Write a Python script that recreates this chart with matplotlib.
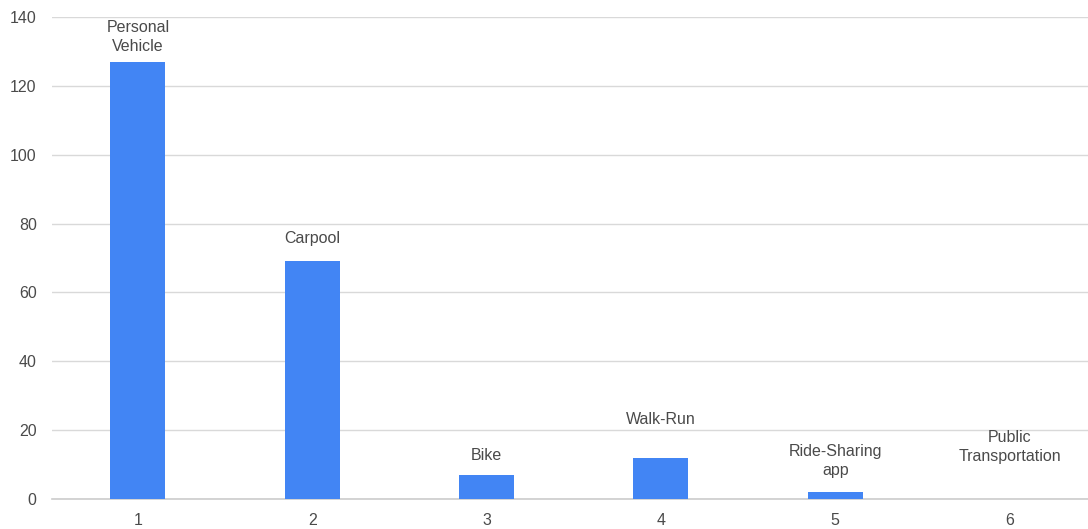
import matplotlib.pyplot as plt

plt.rcParams["font.family"] = ["Liberation Sans", "DejaVu Sans"]

# transport mode counts
positions = [1, 2, 3, 4, 5, 6]
counts = [127, 69, 7, 12, 2, 0]
modes = ["Personal\nVehicle", "Carpool", "Bike", "Walk-Run",
         "Ride-Sharing\napp", "Public\nTransportation"]
y_ticks = [0, 20, 40, 60, 80, 100, 120, 140]

# label lift above each bar (pixels), spread so labels don't collide
label_lift = [8, 15, 12, 31, 14, 35]

BAR_BLUE = "#4285f4"
GRID = "#d9d9d9"
TEXT = "#4a4a4a"

fig = plt.figure(figsize=(10.88, 5.29), dpi=100)
ax = fig.add_axes([52 / 1088, 1 - 499 / 529, 1 - 52 / 1088, (499 - 17) / 529])

ax.bar(positions, counts, width=0.315, color=BAR_BLUE, zorder=3)

for x, v, name, lift in zip(positions, counts, modes, label_lift):
    ax.annotate(name, (x, v), xytext=(0, lift), textcoords="offset pixels",
                ha="center", va="bottom", fontsize=11.5, color=TEXT,
                linespacing=1.35, annotation_clip=False)

ax.set_xlim(0.507, 6.45)
ax.set_ylim(0, 140)
ax.set_xticks(positions)
ax.set_yticks(y_ticks)
ax.yaxis.grid(True, color=GRID, linewidth=1.0, zorder=0)
for s in ax.spines.values():
    s.set_visible(False)
ax.spines["bottom"].set_visible(True)
ax.spines["bottom"].set_color("#cccccc")
ax.spines["bottom"].set_linewidth(1.2)
ax.tick_params(axis="both", length=0, labelsize=11.5, labelcolor=TEXT)
ax.tick_params(axis="x", pad=10)
ax.tick_params(axis="y", pad=11)

fig.savefig("out.png", dpi=100)
